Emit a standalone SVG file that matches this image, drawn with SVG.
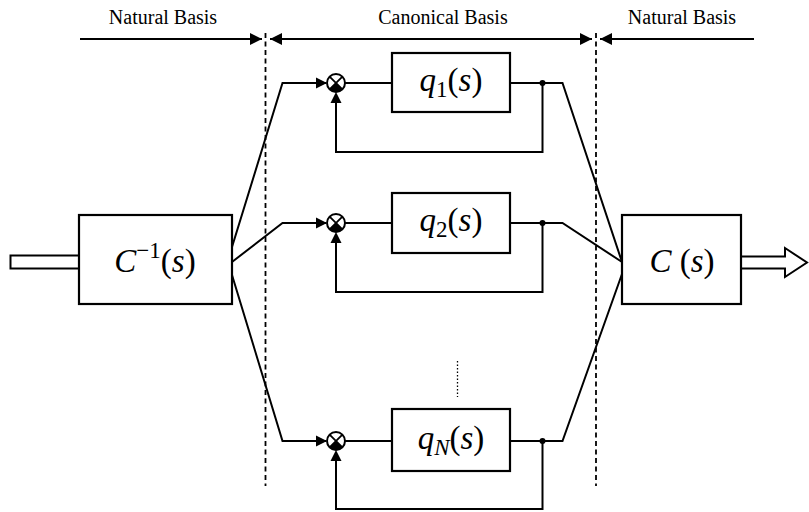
<svg xmlns="http://www.w3.org/2000/svg" width="809" height="512" viewBox="0 0 809 512">
<style>
.ln{fill:none;stroke:#000;stroke-width:2}
.bx{fill:#fff;stroke:#000;stroke-width:2.2}
.dash{fill:none;stroke:#000;stroke-width:1.8;stroke-dasharray:5,3.5}
.dot{fill:none;stroke:#000;stroke-width:1.3;stroke-dasharray:1.5,2}
.ah{fill:#000}
text{font-family:'Liberation Serif','Times New Roman',serif;fill:#000}
.lbl{font-size:20px}
.m{font-size:33px}
.it{font-style:italic}
.sub{font-size:23px}
</style>
<defs>
<marker id="arr" viewBox="0 0 12 12" refX="12" refY="6" markerWidth="12" markerHeight="12" markerUnits="userSpaceOnUse" orient="auto-start-reverse">
<path d="M0,0 L12,6 L0,12 Z" fill="#000"/>
</marker>
<g id="sumj">
<circle cx="0" cy="0" r="9" fill="#fff" stroke="#000" stroke-width="2"/>
<path d="M0,0 L-6.4,6.4 A9,9 0 0 0 6.4,6.4 Z" fill="#000"/>
<path d="M-6.4,-6.4 L6.4,6.4 M6.4,-6.4 L-6.4,6.4" stroke="#000" stroke-width="1.8"/>
</g>
</defs>

<g id="labels">
<text class="lbl" x="163" y="24" text-anchor="middle">Natural Basis</text>
<text class="lbl" x="443" y="24" text-anchor="middle">Canonical Basis</text>
<text class="lbl" x="682" y="24" text-anchor="middle">Natural Basis</text>
</g>

<g id="basis-arrows">
<line class="ln" x1="80" y1="39" x2="262" y2="39" marker-end="url(#arr)"/>
<line class="ln" x1="270" y1="39" x2="592" y2="39" marker-start="url(#arr)" marker-end="url(#arr)"/>
<line class="ln" x1="754" y1="39" x2="600" y2="39" marker-end="url(#arr)"/>
<line class="dash" x1="265.5" y1="33" x2="265.5" y2="486"/>
<line class="dash" x1="596" y1="33" x2="596" y2="486"/>
</g>

<g id="connectors">
<rect x="10.5" y="255.5" width="69" height="13" fill="#fff" stroke="#000" stroke-width="2"/>
<path d="M741,256.5 H785 V248 L807,262.5 L785,277 V268.5 H741" fill="#fff" stroke="#000" stroke-width="2"/>
<polyline class="ln" points="232,247 282.5,83 326,83"/>
<polyline class="ln" points="232,262 282.5,223 326,223"/>
<polyline class="ln" points="232,275 282.5,441 326,441"/>
<polyline class="ln" points="510,83 562.5,83 622,262"/>
<polyline class="ln" points="510,223 562.5,223 622,262"/>
<polyline class="ln" points="510,441 562.5,441 622,274"/>
<line class="ln" x1="345" y1="83" x2="392" y2="83"/>
<line class="ln" x1="345" y1="223" x2="392" y2="223"/>
<line class="ln" x1="345" y1="441" x2="392" y2="441"/>
<polyline class="ln" points="542.5,83 542.5,152 336,152 336,101"/>
<polyline class="ln" points="542.5,223 542.5,292 336,292 336,241"/>
<polyline class="ln" points="542.5,441 542.5,509 336,509 336,459"/>
<circle cx="542.5" cy="83" r="3" fill="#000"/>
<circle cx="542.5" cy="223" r="3" fill="#000"/>
<circle cx="542.5" cy="441" r="3" fill="#000"/>
<path class="ah" d="M327,83 L316,77.5 L316,88.5 Z"/>
<path class="ah" d="M336,92 L330.5,103 L341.5,103 Z"/>
<path class="ah" d="M327,223 L316,217.5 L316,228.5 Z"/>
<path class="ah" d="M336,232 L330.5,243 L341.5,243 Z"/>
<path class="ah" d="M327,441 L316,435.5 L316,446.5 Z"/>
<path class="ah" d="M336,450 L330.5,461 L341.5,461 Z"/>
<line class="dot" x1="457.5" y1="361" x2="457.5" y2="397"/>
</g>

<g id="node-cinv">
<rect class="bx" x="79" y="215" width="153" height="89"/>
<text class="m" x="155" y="272" text-anchor="middle"><tspan class="it">C</tspan><tspan class="sub" dy="-14">−1</tspan><tspan dy="14">(</tspan><tspan class="it">s</tspan>)</text>
</g>

<g id="node-c">
<rect class="bx" x="622" y="215" width="119" height="89"/>
<text class="m" x="682" y="272" text-anchor="middle"><tspan class="it">C</tspan> (<tspan class="it">s</tspan>)</text>
</g>

<g id="sum1"><use href="#sumj" x="336" y="83"/></g>
<g id="sum2"><use href="#sumj" x="336" y="223"/></g>
<g id="sumN"><use href="#sumj" x="336" y="441"/></g>

<g id="node-q1">
<rect class="bx" x="392" y="53" width="118" height="59"/>
<text class="m" x="451" y="91" text-anchor="middle"><tspan class="it">q</tspan><tspan class="sub" dy="6">1</tspan><tspan dy="-6">(</tspan><tspan class="it">s</tspan>)</text>
</g>
<g id="node-q2">
<rect class="bx" x="392" y="193" width="118" height="60"/>
<text class="m" x="451" y="231" text-anchor="middle"><tspan class="it">q</tspan><tspan class="sub" dy="6">2</tspan><tspan dy="-6">(</tspan><tspan class="it">s</tspan>)</text>
</g>
<g id="node-qN">
<rect class="bx" x="392" y="409" width="118" height="62"/>
<text class="m" x="451" y="449" text-anchor="middle"><tspan class="it">q</tspan><tspan class="sub it" dy="6">N</tspan><tspan dy="-6">(</tspan><tspan class="it">s</tspan>)</text>
</g>
</svg>
